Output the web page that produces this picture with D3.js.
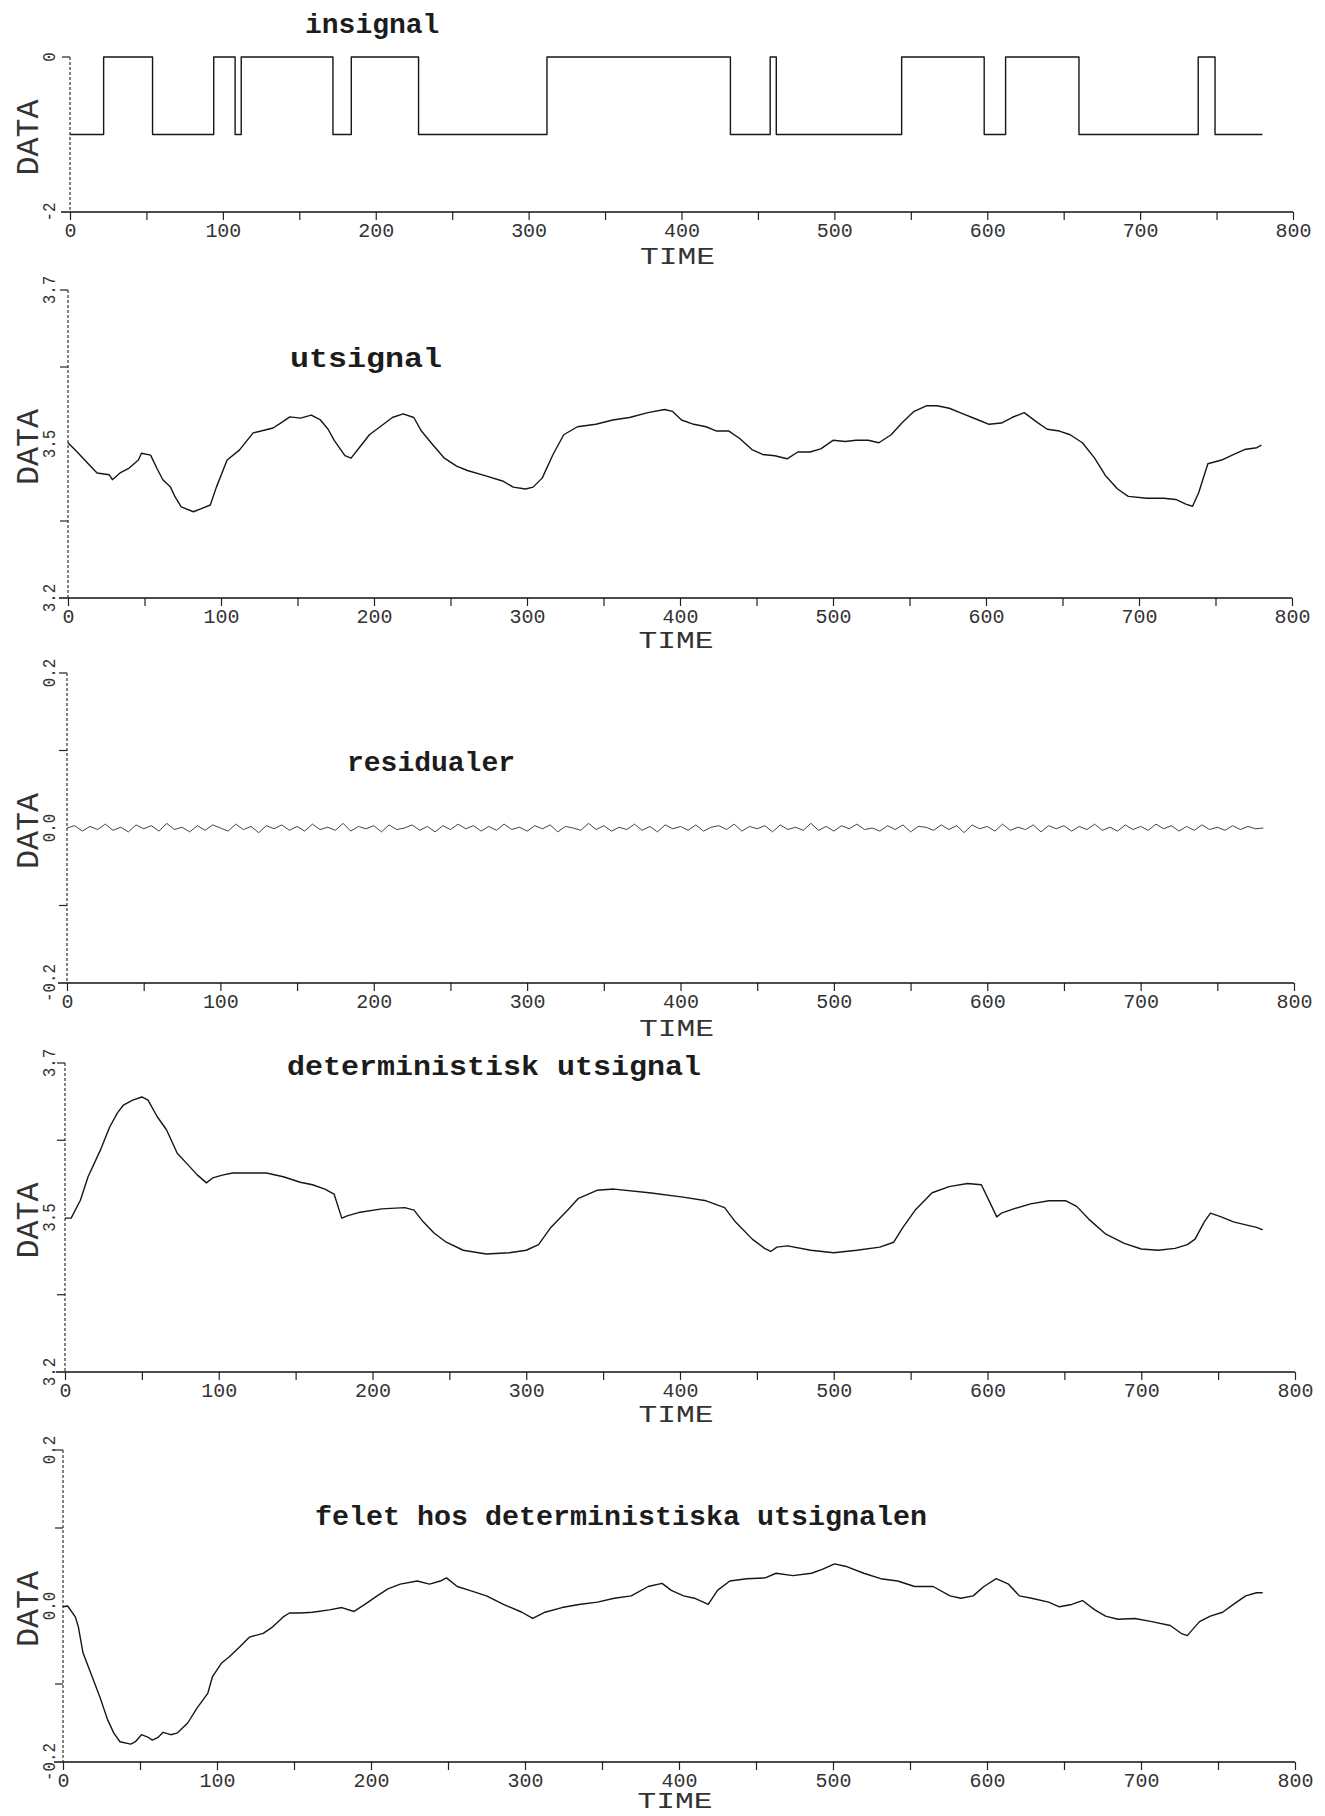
<!DOCTYPE html>
<html>
<head>
<meta charset="utf-8">
<script src="https://cdn.jsdelivr.net/npm/d3@7"></script>
<style>
  body { margin: 0; background: #fff; }
  svg { display: block; }
  .title { font-family: "Liberation Mono", "DejaVu Sans Mono", monospace; font-weight: bold; font-size: 28px; fill: #1c1c1c; }
  .lab { font-family: "Liberation Mono", "DejaVu Sans Mono", monospace; fill: #333; }
</style>
</head>
<body>
<div id="chart"></div>
<script>
var W = 1325, H = 1816;

// insignal: switching times and level held from each time on
var inTimes  = [0, 22, 54, 94, 108, 112, 172, 184, 228, 312, 432, 458, 462, 544, 598, 612, 660, 738, 749, 780];
var inLevels = [-1, 0, -1, 0, -1, 0, -1, 0, -1, 0, -1, 0, -1, 0, -1, 0, -1, 0, -1, -1];

// utsignal
var utTimes  = [0, 6, 14, 19, 27, 29, 34, 40, 46, 48, 54, 58, 62, 67, 70, 74, 82, 88, 93, 97, 104, 112, 121, 134, 139, 145, 152, 159, 165, 170, 174, 181, 185, 191, 197, 204, 212, 219, 226, 231, 238, 246, 254, 261, 272, 284, 291, 299, 304, 310, 317, 324, 333, 345, 356, 367, 379, 390, 395, 401, 409, 417, 424, 432, 439, 447, 454, 462, 470, 477, 485, 492, 500, 508, 515, 523, 530, 538, 545, 553, 561, 568, 576, 583, 595, 602, 610, 617, 625, 633, 640, 648, 655, 663, 671, 678, 686, 693, 705, 716, 724, 731, 735, 739, 745, 754, 762, 769, 777, 780];
var utValues = [3.452, 3.437, 3.416, 3.403, 3.400, 3.392, 3.403, 3.411, 3.424, 3.435, 3.432, 3.411, 3.392, 3.380, 3.364, 3.348, 3.340, 3.346, 3.351, 3.380, 3.424, 3.440, 3.468, 3.476, 3.484, 3.494, 3.492, 3.497, 3.489, 3.474, 3.456, 3.431, 3.427, 3.446, 3.465, 3.478, 3.493, 3.499, 3.493, 3.471, 3.450, 3.427, 3.414, 3.407, 3.399, 3.390, 3.380, 3.377, 3.380, 3.395, 3.433, 3.465, 3.478, 3.482, 3.489, 3.493, 3.501, 3.506, 3.503, 3.489, 3.482, 3.478, 3.471, 3.471, 3.459, 3.441, 3.433, 3.431, 3.426, 3.437, 3.437, 3.442, 3.456, 3.454, 3.456, 3.456, 3.452, 3.465, 3.484, 3.503, 3.512, 3.512, 3.508, 3.501, 3.489, 3.482, 3.484, 3.493, 3.501, 3.486, 3.474, 3.471, 3.465, 3.452, 3.427, 3.399, 3.377, 3.365, 3.362, 3.362, 3.360, 3.352, 3.349, 3.371, 3.418, 3.424, 3.433, 3.441, 3.444, 3.448];

// residualer, one value every 5 time units
var resStep = 5;
var resValues = [0.000, 0.003, -0.004, 0.002, -0.002, 0.005, -0.003, 0.001, -0.005, 0.004,
  -0.001, 0.003, -0.004, 0.006, -0.002, 0.001, -0.005, 0.003, -0.003, 0.004,
  0.000, -0.004, 0.005, -0.002, 0.002, -0.006, 0.003, -0.001, 0.004, -0.003,
  0.002, -0.004, 0.005, -0.002, 0.001, -0.003, 0.006, -0.004, 0.002, -0.001,
  0.003, -0.005, 0.004, -0.002, 0.000, 0.004, -0.003, 0.002, -0.005, 0.003,
  -0.002, 0.005, -0.001, 0.003, -0.004, 0.002, -0.003, 0.005, -0.002, 0.001,
  -0.004, 0.003, -0.001, 0.004, -0.005, 0.002, 0.000, -0.003, 0.006, -0.002,
  0.003, -0.004, 0.001, -0.002, 0.005, -0.003, 0.002, -0.005, 0.004, -0.001,
  0.002, -0.003, 0.004, -0.004, 0.001, 0.003, -0.002, 0.005, -0.004, 0.002,
  -0.001, 0.003, -0.005, 0.004, -0.002, 0.001, -0.003, 0.006, -0.003, 0.002,
  -0.004, 0.003, -0.001, 0.005, -0.002, 0.000, -0.004, 0.003, -0.002, 0.004,
  -0.005, 0.002, 0.001, -0.003, 0.004, -0.002, 0.003, -0.006, 0.004, -0.001,
  0.002, -0.004, 0.005, -0.003, 0.001, -0.002, 0.004, -0.005, 0.003, -0.001,
  0.003, -0.004, 0.002, -0.002, 0.005, -0.003, 0.001, -0.004, 0.004, -0.002,
  0.002, -0.003, 0.005, -0.001, 0.003, -0.004, 0.002, -0.003, 0.004, -0.002,
  0.001, -0.003, 0.003, -0.002, 0.002, -0.001, 0.000];

// deterministisk utsignal
var detTimes  = [0, 4, 10, 15, 23, 29, 34, 38, 44, 50, 54, 60, 66, 73, 79, 86, 92, 96, 103, 109, 114, 125, 131, 142, 153, 161, 169, 175, 180, 184, 191, 206, 221, 227, 233, 240, 248, 259, 274, 289, 300, 308, 316, 327, 334, 346, 357, 380, 402, 417, 429, 436, 447, 455, 459, 463, 470, 485, 500, 515, 530, 539, 545, 553, 564, 575, 587, 596, 602, 606, 609, 617, 628, 640, 651, 658, 666, 677, 689, 700, 711, 722, 730, 735, 741, 745, 752, 760, 768, 775, 779];
var detValues = [3.449, 3.449, 3.478, 3.516, 3.559, 3.596, 3.619, 3.632, 3.640, 3.645, 3.640, 3.613, 3.592, 3.554, 3.538, 3.519, 3.506, 3.514, 3.519, 3.522, 3.522, 3.522, 3.522, 3.516, 3.507, 3.503, 3.496, 3.488, 3.449, 3.453, 3.458, 3.464, 3.466, 3.462, 3.443, 3.425, 3.410, 3.397, 3.391, 3.393, 3.397, 3.406, 3.434, 3.462, 3.481, 3.494, 3.496, 3.490, 3.483, 3.477, 3.466, 3.443, 3.415, 3.400, 3.395, 3.402, 3.404, 3.397, 3.393, 3.397, 3.402, 3.410, 3.434, 3.462, 3.490, 3.500, 3.505, 3.503, 3.472, 3.451, 3.457, 3.464, 3.472, 3.477, 3.477, 3.468, 3.447, 3.423, 3.408, 3.399, 3.397, 3.400, 3.406, 3.415, 3.443, 3.457, 3.451, 3.443, 3.438, 3.434, 3.430];

// felet hos deterministiska utsignalen
var errTimes  = [0, 3, 8, 10, 13, 18, 24, 29, 33, 37, 44, 47, 51, 55, 58, 62, 65, 70, 74, 81, 87, 94, 97, 103, 108, 115, 121, 130, 136, 143, 147, 154, 162, 173, 181, 189, 196, 204, 211, 219, 230, 238, 245, 249, 256, 264, 275, 286, 298, 305, 313, 324, 335, 347, 358, 369, 380, 389, 395, 403, 410, 419, 425, 433, 444, 456, 463, 474, 486, 493, 501, 508, 520, 531, 542, 553, 565, 576, 583, 591, 598, 606, 614, 621, 629, 640, 647, 655, 662, 670, 677, 685, 696, 707, 719, 726, 730, 738, 745, 753, 760, 768, 775, 779];
var errValues = [-0.001, 0.000, -0.014, -0.027, -0.060, -0.086, -0.117, -0.146, -0.163, -0.174, -0.177, -0.174, -0.165, -0.168, -0.172, -0.168, -0.162, -0.165, -0.163, -0.150, -0.131, -0.112, -0.091, -0.073, -0.065, -0.052, -0.040, -0.035, -0.027, -0.014, -0.009, -0.009, -0.008, -0.005, -0.002, -0.007, 0.002, 0.013, 0.022, 0.028, 0.032, 0.028, 0.032, 0.036, 0.025, 0.020, 0.013, 0.002, -0.008, -0.016, -0.008, -0.002, 0.002, 0.005, 0.010, 0.013, 0.025, 0.029, 0.020, 0.013, 0.010, 0.002, 0.020, 0.032, 0.035, 0.036, 0.042, 0.039, 0.042, 0.047, 0.054, 0.051, 0.042, 0.035, 0.032, 0.025, 0.025, 0.013, 0.010, 0.013, 0.025, 0.035, 0.028, 0.013, 0.010, 0.005, -0.001, 0.002, 0.007, -0.005, -0.013, -0.017, -0.016, -0.020, -0.025, -0.035, -0.038, -0.020, -0.013, -0.008, 0.002, 0.013, 0.017, 0.017];

// tick labels
var xTicks = d3.range(0, 801, 50);
var yLabels = [["0", "", "-2"], ["3.7", "3.5", "3.2"], ["0.2", "0.0", "-0.2"], ["3.7", "3.5", "3.2"], ["0.2", "0.0", "-0.2"]];
var titles = ["insignal", "utsignal", "residualer", "deterministisk utsignal", "felet hos deterministiska utsignalen"];

var series = [
  { t: inTimes, v: inLevels, step: true },
  { t: utTimes, v: utValues },
  { t: resValues.map(function(d, i) { return i * resStep; }), v: resValues, thin: true },
  { t: detTimes, v: detValues },
  { t: errTimes, v: errValues }
];

// page layout of the five plots (scanned sheet, slightly skewed)
var layout = [
  { x0: 70, x1: 1293, top: 57,   bot: 212,  dom: [-2, 0],     tx: 305, ty: 33,   tl: 0,   timeY: 52, timeFs: 24, qt: false },
  { x0: 68, x1: 1292, top: 290,  bot: 598,  dom: [3.2, 3.7],  tx: 290, ty: 367,  tl: 152, timeY: 50, timeFs: 24, qt: true },
  { x0: 67, x1: 1294, top: 673,  bot: 983,  dom: [-0.2, 0.2], tx: 347, ty: 771,  tl: 0,   timeY: 53, timeFs: 24, qt: true },
  { x0: 65, x1: 1295, top: 1063, bot: 1372, dom: [3.2, 3.7],  tx: 287, ty: 1075, tl: 414, timeY: 50, timeFs: 24, qt: true },
  { x0: 63, x1: 1295, top: 1450, bot: 1762, dom: [-0.2, 0.2], tx: 315, ty: 1525, tl: 612, timeY: 46, timeFs: 22, qt: true }
];

var svg = d3.select("#chart").append("svg")
    .attr("width", W)
    .attr("height", H);

svg.append("rect").attr("width", W).attr("height", H).attr("fill", "#fff");

layout.forEach(function(p, k) {
  var x = d3.scaleLinear().domain([0, 800]).range([p.x0, p.x1]);
  var y = d3.scaleLinear().domain(p.dom).range([p.bot, p.top]);
  var g = svg.append("g").attr("class", "panel");

  // x axis
  var xAxis = d3.axisBottom(x)
    .tickValues(xTicks)
    .tickSize(8)
    .tickSizeOuter(0)
    .tickFormat(function(d) { return d % 100 ? "" : d; });

  var ax = g.append("g")
      .attr("transform", "translate(0," + p.bot + ")")
      .call(xAxis);
  ax.select(".domain").remove();
  ax.selectAll(".tick line").attr("stroke", "#222").attr("stroke-width", 1.2);
  ax.selectAll(".tick text")
      .attr("class", "lab")
      .attr("y", 25).attr("dy", null)
      .style("font-size", "20px")
      .attr("textLength", function(d) { return d % 100 ? 0 : String(d).length * 12; })
      .attr("lengthAdjust", "spacingAndGlyphs");

  g.append("line")
      .attr("x1", p.x0 - 9).attr("x2", p.x1)
      .attr("y1", p.bot).attr("y2", p.bot)
      .attr("stroke", "#111").attr("stroke-width", 1.5);

  g.append("text")
      .attr("class", "lab")
      .attr("x", x(400) - 4).attr("y", p.bot + p.timeY)
      .attr("text-anchor", "middle")
      .style("font-size", p.timeFs + "px")
      .attr("textLength", 75).attr("lengthAdjust", "spacingAndGlyphs")
      .text("TIME");

  // y axis, dotted like the plotter pen
  g.append("line")
      .attr("x1", p.x0).attr("x2", p.x0)
      .attr("y1", p.top).attr("y2", p.bot)
      .attr("stroke", "#333").attr("stroke-width", 1.2)
      .attr("stroke-dasharray", "3,2");

  var quarters = p.qt ? [0.25, 0.75, 1] : [1];
  g.selectAll(".ytick").data(quarters).enter().append("line")
      .attr("x1", p.x0 - 8).attr("x2", p.x0)
      .attr("y1", function(f) { return y(p.dom[0] + f * (p.dom[1] - p.dom[0])); })
      .attr("y2", function(f) { return y(p.dom[0] + f * (p.dom[1] - p.dom[0])); })
      .attr("stroke", "#222").attr("stroke-width", 1.2);

  var labs = yLabels[k];
  var ly = [p.top, (p.top + p.bot) / 2, p.bot];
  labs.forEach(function(s, i) {
    if (!s) return;
    g.append("text")
        .attr("class", "lab")
        .attr("transform", "translate(55," + ly[i] + ") rotate(-90)")
        .attr("text-anchor", "middle")
        .style("font-size", "19px")
        .attr("textLength", s.length * 9.5).attr("lengthAdjust", "spacingAndGlyphs")
        .text(s);
  });

  g.append("text")
      .attr("class", "lab")
      .attr("transform", "translate(38," + ((p.top + p.bot) / 2 + 3) + ") rotate(-90)")
      .attr("text-anchor", "middle")
      .style("font-size", "32px")
      .attr("textLength", 76).attr("lengthAdjust", "spacingAndGlyphs")
      .text("DATA");

  // title
  var tt = g.append("text")
      .attr("class", "title")
      .attr("x", p.tx).attr("y", p.ty)
      .text(titles[k]);
  if (p.tl) tt.attr("textLength", p.tl).attr("lengthAdjust", "spacingAndGlyphs");

  // data line
  var s = series[k];
  var line = d3.line()
      .x(function(d) { return x(d[0]); })
      .y(function(d) { return y(d[1]); })
      .curve(s.step ? d3.curveStepAfter : d3.curveLinear);

  g.append("path")
      .datum(d3.zip(s.t, s.v))
      .attr("fill", "none")
      .attr("stroke", s.thin ? "#444" : "#161616")
      .attr("stroke-width", s.thin ? 1 : 1.4)
      .attr("stroke-linejoin", "round")
      .attr("d", line);
});
</script>
</body>
</html>
